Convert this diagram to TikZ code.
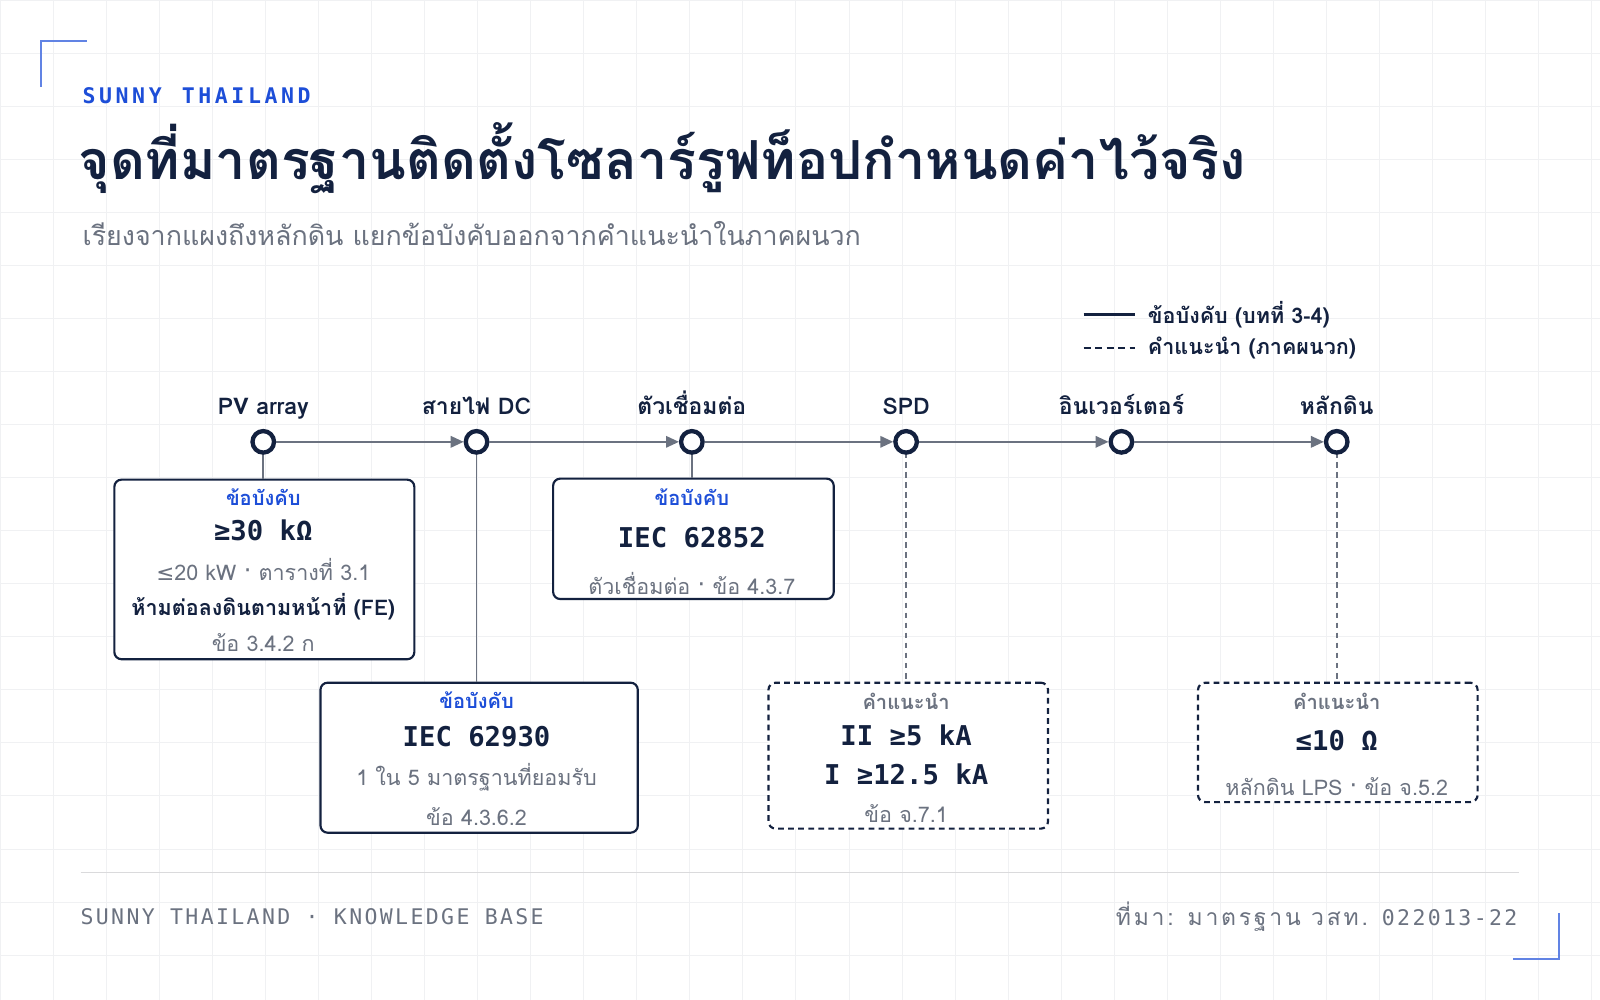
\documentclass[tikz,border=0pt]{standalone}
\usepackage{fontspec}
\setmainfont{Loma}[Script=Thai]
\newfontfamily\thaifont[Script=Thai]{Loma}
\newfontfamily\thails[Script=Thai,LetterSpace=12]{Loma}
\newfontfamily\monof{DejaVu Sans Mono}
\newfontfamily\monols[LetterSpace=11]{DejaVu Sans Mono}
\newfontfamily\dejav{DejaVu Sans}
\usetikzlibrary{arrows.meta}
\definecolor{navy}{HTML}{13213F}
\definecolor{blu}{HTML}{1D4ED8}
\definecolor{gry}{HTML}{6B7280}
\definecolor{lgry}{HTML}{F0F1F3}
\begin{document}
\begin{tikzpicture}[x=0.25mm,y=-0.25mm,
 pt/.style={circle,draw=navy,line width=3pt,fill=white,minimum size=15pt,inner sep=0},
 lab/.style={font=\bfseries\fontsize{16}{18}\selectfont,text=navy},
 arr/.style={draw=gry,line width=1.3pt,-{Triangle[length=9pt,width=8pt]}},
 box/.style={draw=navy,line width=1.5pt,rounded corners=5pt,fill=white},
 dbox/.style={box,dash pattern=on 4pt off 3pt},
 req/.style={font=\bfseries\fontsize{14}{16}\selectfont,text=blu},
 rec/.style={font=\bfseries\fontsize{14}{16}\selectfont,text=gry},
 big/.style={font=\monof\bfseries\fontsize{19}{22}\selectfont,text=navy},
 sub/.style={font=\fontsize{15}{17}\selectfont,text=gry},
 bsub/.style={font=\bfseries\fontsize{15}{17}\selectfont,text=navy},
 vl/.style={draw=gry,line width=1.2pt},
 dvl/.style={vl,dash pattern=on 4pt off 3pt}]
\useasboundingbox (0,0) rectangle (1568,980);
\fill[white] (0,0) rectangle (1568,980);
\foreach \x in {0,52,...,1568} \draw[lgry,line width=0.6pt] (\x,0)--(\x,980);
\foreach \y in {0,52,...,980} \draw[lgry,line width=0.6pt] (0,\y)--(1568,\y);
\draw[blu!70,line width=1.5pt] (40,85)--(40,40)--(85,40);
\draw[blu!70,line width=1.5pt] (1483,940)--(1528,940)--(1528,895);
\node[anchor=west,text=blu,font=\monof\bfseries\fontsize{15}{17}\selectfont] (brand) at (76,94) {S\,U\,N\,N\,Y\, \,T\,H\,A\,I\,L\,A\,N\,D};
\node[anchor=west,text=navy,font=\bfseries\fontsize{37.5}{42}\selectfont] (title) at (72,155) {จุดที่มาตรฐานติดตั้งโซลาร์รูฟท็อปกำหนดค่าไว้จริง};
\node[anchor=west,text=gry,font=\fontsize{18.7}{21}\selectfont] (subt) at (76,229) {เรียงจากแผงถึงหลักดิน แยกข้อบังคับออกจากคำแนะนำในภาคผนวก};
% legend
\coordinate (l1a) at (1062,308); \coordinate (l1b) at (1112,308);
\coordinate (l2a) at (1062,341); \coordinate (l2b) at (1112,341);
\draw[navy,line width=1.8pt] (l1a)--(l1b);
\draw[navy,line width=1.8pt,dash pattern=on 5pt off 3pt] (l2a)--(l2b);
\node[anchor=west,text=navy,font=\bfseries\fontsize{15}{17}\selectfont] (lg1) at (1120,308) {ข้อบังคับ (บทที่ 3-4)};
\node[anchor=west,text=navy,font=\bfseries\fontsize{15}{17}\selectfont] (lg2) at (1120,341) {คำแนะนำ (ภาคผนวก)};
% chain
\foreach \n/\x/\t in {p1/258/PV array,p2/467/สายไฟ DC,p3/678/ตัวเชื่อมต่อ,p4/888/SPD,p5/1099/อินเวอร์เตอร์,p6/1310/หลักดิน}{
 \node[lab,anchor=base] (t\n) at (\x,406) {\t};
}
% boxes
\node[box,anchor=north west,inner sep=0,minimum width=73.5mm,minimum height=44mm] (bA) at (111,469) {};
\node[box,anchor=north west,inner sep=0,minimum width=77.75mm,minimum height=36.75mm] (bB) at (313,668) {};
\node[box,anchor=north west,inner sep=0,minimum width=68.75mm,minimum height=29.5mm] (bC) at (541,468) {};
\node[dbox,anchor=north west,inner sep=0,minimum width=68.5mm,minimum height=35.75mm] (bD) at (752,668) {};
\node[dbox,anchor=north west,inner sep=0,minimum width=68.5mm,minimum height=29.25mm] (bE) at (1173,668) {};
\foreach \n/\x in {p1/258,p2/467,p3/678,p4/888,p5/1099,p6/1310}{ \coordinate (c\n) at (\x,433); }
\draw[vl] (cp1)--(cp1|-bA.north);
\draw[vl] (cp2)--(cp2|-bB.north);
\draw[vl] (cp3)--(cp3|-bC.north);
\draw[dvl] (cp4)--(cp4|-bD.north);
\draw[dvl] (cp6)--(cp6|-bE.north);
\foreach \n/\x in {p1/258,p2/467,p3/678,p4/888,p5/1099,p6/1310}{ \node[pt] (\n) at (\x,433) {}; }
\foreach \a/\b in {p1/p2,p2/p3,p3/p4,p4/p5,p5/p6} \draw[arr] (\a) -- (\b);
% box A
\node[req] (a1) at (258,487) {ข้อบังคับ};
\node[big] (a2) at (258,520) {≥30 kΩ};
\node[sub] (a3) at (258,558) {{\dejav ≤}20 kW · ตารางที่ 3.1};
\node[bsub] (a4) at (258,595) {ห้ามต่อลงดินตามหน้าที่ (FE)};
\node[sub] (a5) at (258,630) {ข้อ 3.4.2 ก};
% box B
\node[req] (b1) at (467,686) {ข้อบังคับ};
\node[big] (b2) at (467,722) {IEC 62930};
\node[sub] (b3) at (467,762) {1 ใน 5 มาตรฐานที่ยอมรับ};
\node[sub] (b4) at (467,800) {ข้อ 4.3.6.2};
% box C
\node[req] (c1) at (678,487) {ข้อบังคับ};
\node[big] (c2) at (678,527) {IEC 62852};
\node[sub] (c3) at (678,572) {ตัวเชื่อมต่อ · ข้อ 4.3.7};
% box D
\node[rec] (d1) at (888,687) {คำแนะนำ};
\node[big] (d2) at (888,721) {II ≥5 kA};
\node[big] (d3) at (888,759) {I ≥12.5 kA};
\node[sub] (d4) at (888,797) {ข้อ จ.7.1};
% box E
\node[rec] (e1) at (1310,687) {คำแนะนำ};
\node[big] (e2) at (1310,726) {≤10 Ω};
\node[sub] (e3) at (1310,771) {หลักดิน LPS · ข้อ จ.5.2};
% footer
\coordinate (fa) at (79,855); \coordinate (fb) at (1489,855);
\draw[lgry!80!gray,line width=1pt] (fa)--(fb);
\node[anchor=west,text=gry,font=\monols\fontsize{15}{17}\selectfont] (f1) at (74,898) {SUNNY THAILAND · KNOWLEDGE BASE};
\node[anchor=east,text=gry,font=\thails\fontsize{16}{18}\selectfont] (f2) at (1492,898) {ที่มา: มาตรฐาน วสท. {\monols\fontsize{15}{17}\selectfont 022013-22}};
\end{tikzpicture}
\end{document}
